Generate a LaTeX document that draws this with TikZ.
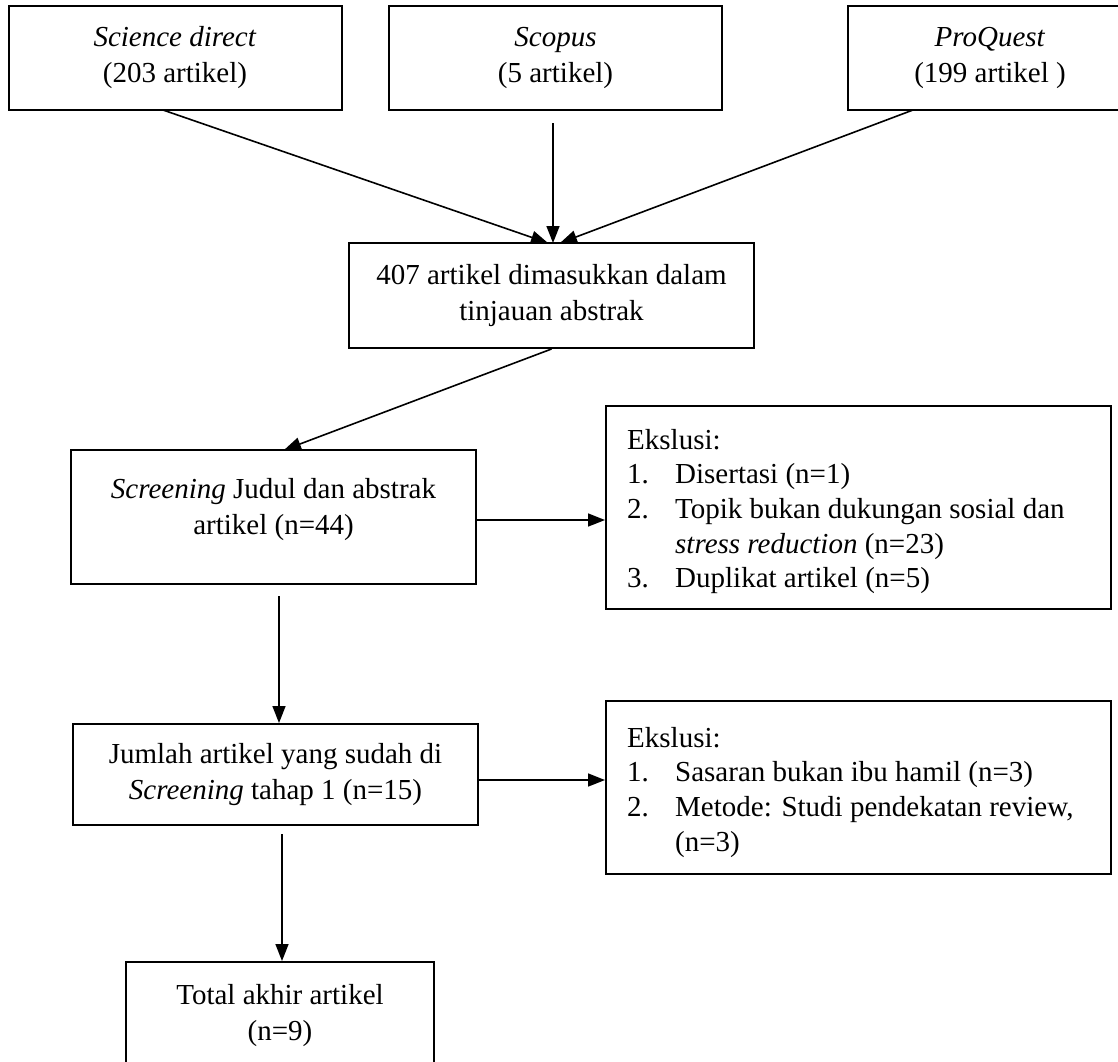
\documentclass[tikz,border=0pt]{standalone}
\usepackage{fontspec}
\setmainfont{Liberation Serif}
\usetikzlibrary{arrows.meta}
\newcommand{\myfs}{\fontsize{29}{36}\selectfont}
\newcommand{\mylfs}{\fontsize{29}{34.7}\selectfont}
\begin{document}
\begin{tikzpicture}[x=1pt,y=-1pt,
  box/.style={draw, line width=2pt, inner sep=0pt, align=center, font=\myfs},
  arr/.style={line width=1.6pt, -{Triangle[length=17pt,width=13pt]}},
  listtext/.style={anchor=base west, inner sep=0pt}]
\clip (0,0) rectangle (1118,1061);
\useasboundingbox (0,0) rectangle (1118,1061);
% top sources
\node[box, minimum width=333pt, minimum height=104pt] (sd) at (175,58) {\textit{Science direct}\\(203 artikel)};
\node[box, minimum width=333pt, minimum height=104pt] (sc) at (555.5,58) {\textit{Scopus}\\(5 artikel)};
\node[box, minimum width=284pt, minimum height=104pt] (pq) at (990,58) {\textit{ProQuest}\\(199 artikel )};
% merged
\node[box, minimum width=405pt, minimum height=105pt] (b407) at (551.5,295.5) {407 artikel dimasukkan dalam\\tinjauan abstrak};
% screening
\node[box, minimum width=405pt, minimum height=134pt] (scr) at (273.5,517) {};
\node[inner sep=0pt, align=center, font=\myfs] (scrtxt) at ([yshift=7pt]scr.center) {\textit{Screening} Judul dan abstrak\\artikel (n=44)};
\node[box, minimum width=505pt, minimum height=203pt] (ex1) at (858.5,507.5) {};
\node[listtext] (ex1txt) at (627,449) {\parbox[t]{470pt}{\mylfs
Ekslusi:\\
\makebox[48pt][l]{1.}Disertasi (n=1)\\
\makebox[48pt][l]{2.}Topik bukan dukungan sosial dan\\
\hspace*{48pt}\textit{stress reduction} (n=23)\\
\makebox[48pt][l]{3.}Duplikat artikel (n=5)}};
% jumlah
\node[box, minimum width=405pt, minimum height=101pt] (jum) at (275.5,774.5) {Jumlah artikel yang sudah di\\\textit{Screening} tahap 1 (n=15)};
\node[box, minimum width=505pt, minimum height=173pt] (ex2) at (858.5,787.5) {};
\node[listtext] (ex2txt) at (627,747) {\parbox[t]{470pt}{\mylfs
Ekslusi:\\
\makebox[48pt][l]{1.}Sasaran bukan ibu hamil (n=3)\\
\makebox[48pt][l]{2.}Metode: Studi pendekatan review,\\
\hspace*{48pt}(n=3)}};
% total
\node[box, minimum width=308pt, minimum height=108pt] (tot) at (280,1016) {Total akhir artikel\\(n=9)};
% connectors
\coordinate (e1) at (548,243);
\coordinate (e2) at (553,243);
\coordinate (e3) at (560,243);
\coordinate (s2) at (553,123);
\coordinate (s1) at (163,110);
\coordinate (s3) at (913,110);
\draw[arr] (s1) -- (e1);
\draw[arr] (s2) -- (e2);
\draw[arr] (s3) -- (e3);
\coordinate (e4) at (284,450);
\draw[arr] (b407.south) -- (e4);
\coordinate (r1) at ([yshift=-3pt]scr.east);
\draw[arr] (r1) -- (r1 -| ex1.west);
\coordinate (d1) at (279,596);
\draw[arr] (d1) -- (d1 |- jum.north);
\coordinate (r2) at ([yshift=-5.5pt]jum.east);
\draw[arr] (r2) -- (r2 -| ex2.west);
\coordinate (d2) at (282,834);
\draw[arr] (d2) -- (d2 |- tot.north);
\end{tikzpicture}
\end{document}
